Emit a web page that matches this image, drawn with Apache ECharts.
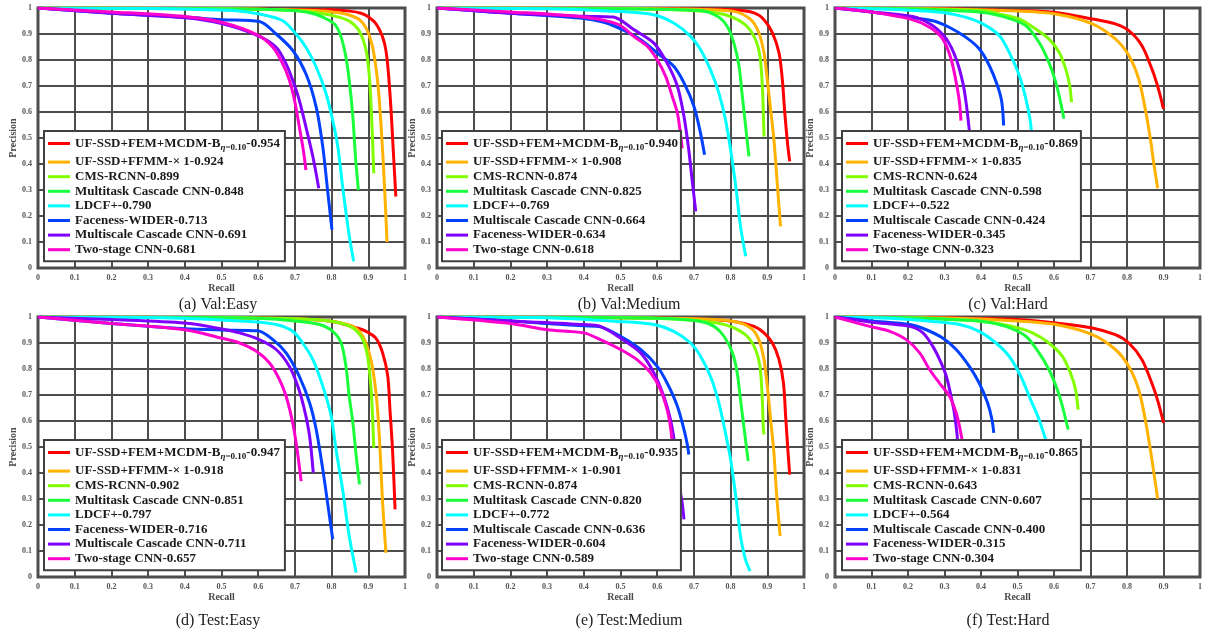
<!DOCTYPE html>
<html><head><meta charset="utf-8">
<script src="https://cdn.jsdelivr.net/npm/echarts@6/dist/echarts.min.js"></script>
<style>html,body{margin:0;padding:0;background:#fff}#c{width:1205px;height:631px}</style>
</head><body><div id="c"></div>
<script>
// ---------------- DATA ----------------
const panelCaptions = ['(a) Val:Easy', '(b) Val:Medium', '(c) Val:Hard', '(d) Test:Easy', '(e) Test:Medium', '(f) Test:Hard'];
const xTickLabels = ['0', '0.1', '0.2', '0.3', '0.4', '0.5', '0.6', '0.7', '0.8', '0.9', '1'];
const subscriptText = 'η=0.10';

const valEasyNames = ['UF-SSD+FEM+MCDM-B', 'UF-SSD+FFMM-× 1', 'CMS-RCNN', 'Multitask Cascade CNN', 'LDCF+', 'Faceness-WIDER', 'Multiscale Cascade CNN', 'Two-stage CNN'];
const valEasyScores = ['0.954', '0.924', '0.899', '0.848', '0.790', '0.713', '0.691', '0.681'];
const valEasyCurves = [
  [[0,1],[0.3,0.999],[0.6,0.996],[0.8,0.993],[0.85,0.988],[0.88,0.98],[0.898,0.968],[0.921,0.939],[0.939,0.888],[0.948,0.837],[0.955,0.747],[0.962,0.607],[0.968,0.453],[0.975,0.275]],
  [[0,1],[0.3,0.999],[0.6,0.995],[0.75,0.99],[0.82,0.982],[0.85,0.972],[0.876,0.955],[0.895,0.92],[0.91,0.86],[0.92,0.78],[0.928,0.68],[0.936,0.52],[0.944,0.32],[0.951,0.10]],
  [[0,1],[0.4,0.998],[0.6,0.995],[0.7,0.99],[0.77,0.98],[0.82,0.965],[0.85,0.948],[0.876,0.91],[0.894,0.837],[0.903,0.735],[0.909,0.581],[0.915,0.364]],
  [[0,1],[0.4,0.998],[0.6,0.995],[0.712,0.988],[0.758,0.975],[0.79,0.955],[0.81,0.935],[0.826,0.888],[0.839,0.811],[0.848,0.722],[0.858,0.581],[0.865,0.428],[0.873,0.3]],
  [[0,1],[0.3,0.998],[0.531,0.99],[0.603,0.977],[0.667,0.951],[0.703,0.9],[0.73,0.849],[0.758,0.773],[0.785,0.67],[0.803,0.568],[0.817,0.466],[0.83,0.313],[0.847,0.134],[0.86,0.026]],
  [[0,1],[0.2,0.98],[0.4,0.965],[0.5,0.955],[0.603,0.948],[0.649,0.9],[0.694,0.837],[0.73,0.747],[0.758,0.619],[0.776,0.466],[0.789,0.3],[0.801,0.147]],
  [[0,1],[0.2,0.98],[0.4,0.962],[0.5,0.94],[0.6,0.893],[0.649,0.849],[0.676,0.785],[0.694,0.722],[0.712,0.645],[0.73,0.543],[0.749,0.428],[0.765,0.307]],
  [[0,1],[0.2,0.985],[0.4,0.967],[0.5,0.945],[0.6,0.895],[0.64,0.849],[0.667,0.785],[0.685,0.722],[0.699,0.645],[0.712,0.543],[0.723,0.453],[0.73,0.377]]
];

const valMediumNames = ['UF-SSD+FEM+MCDM-B', 'UF-SSD+FFMM-× 1', 'CMS-RCNN', 'Multitask Cascade CNN', 'LDCF+', 'Multiscale Cascade CNN', 'Faceness-WIDER', 'Two-stage CNN'];
const valMediumScores = ['0.940', '0.908', '0.874', '0.825', '0.769', '0.664', '0.634', '0.618'];
const valMediumCurves = [
  [[0,1],[0.4,0.999],[0.7,0.996],[0.809,0.993],[0.864,0.981],[0.891,0.955],[0.914,0.904],[0.932,0.827],[0.941,0.724],[0.947,0.609],[0.955,0.481],[0.961,0.41]],
  [[0,1],[0.4,0.999],[0.7,0.995],[0.809,0.987],[0.855,0.955],[0.877,0.904],[0.891,0.827],[0.9,0.724],[0.909,0.609],[0.918,0.494],[0.927,0.327],[0.936,0.16]],
  [[0,1],[0.4,0.998],[0.65,0.993],[0.764,0.981],[0.809,0.962],[0.845,0.929],[0.868,0.878],[0.88,0.814],[0.886,0.712],[0.889,0.609],[0.891,0.506]],
  [[0,1],[0.4,0.998],[0.6,0.995],[0.718,0.99],[0.764,0.968],[0.791,0.929],[0.809,0.865],[0.823,0.776],[0.832,0.66],[0.841,0.545],[0.85,0.429]],
  [[0,1],[0.3,0.997],[0.491,0.987],[0.591,0.974],[0.645,0.942],[0.691,0.891],[0.718,0.84],[0.745,0.763],[0.768,0.673],[0.786,0.571],[0.8,0.455],[0.814,0.314],[0.827,0.16],[0.841,0.045]],
  [[0,1],[0.2,0.98],[0.4,0.96],[0.455,0.945],[0.505,0.917],[0.555,0.878],[0.6,0.827],[0.645,0.776],[0.673,0.712],[0.7,0.622],[0.718,0.519],[0.729,0.436]],
  [[0,1],[0.2,0.98],[0.4,0.968],[0.48,0.965],[0.536,0.917],[0.591,0.865],[0.627,0.788],[0.655,0.699],[0.673,0.583],[0.686,0.455],[0.695,0.34],[0.705,0.218]],
  [[0,1],[0.2,0.985],[0.4,0.965],[0.495,0.936],[0.536,0.891],[0.573,0.853],[0.6,0.801],[0.623,0.737],[0.641,0.66],[0.655,0.596],[0.662,0.532],[0.668,0.46]]
];

const valHardNames = ['UF-SSD+FEM+MCDM-B', 'UF-SSD+FFMM-× 1', 'CMS-RCNN', 'Multitask Cascade CNN', 'LDCF+', 'Multiscale Cascade CNN', 'Faceness-WIDER', 'Two-stage CNN'];
const valHardScores = ['0.869', '0.835', '0.624', '0.598', '0.522', '0.424', '0.345', '0.323'];
const valHardCurves = [
  [[0,1],[0.3,0.997],[0.5,0.99],[0.605,0.983],[0.705,0.958],[0.768,0.939],[0.805,0.913],[0.841,0.855],[0.868,0.766],[0.886,0.689],[0.9,0.612]],
  [[0,1],[0.3,0.996],[0.5,0.988],[0.605,0.977],[0.705,0.939],[0.768,0.881],[0.805,0.817],[0.832,0.727],[0.85,0.612],[0.864,0.497],[0.873,0.407],[0.884,0.307]],
  [[0,1],[0.2,0.997],[0.4,0.99],[0.45,0.977],[0.505,0.958],[0.55,0.919],[0.586,0.881],[0.614,0.83],[0.632,0.766],[0.643,0.702],[0.648,0.638]],
  [[0,1],[0.2,0.997],[0.405,0.983],[0.468,0.964],[0.523,0.932],[0.559,0.868],[0.586,0.791],[0.605,0.714],[0.618,0.638],[0.627,0.574]],
  [[0,1],[0.15,0.995],[0.295,0.983],[0.359,0.964],[0.405,0.939],[0.45,0.894],[0.477,0.83],[0.505,0.74],[0.523,0.65],[0.534,0.574],[0.538,0.529]],
  [[0,1],[0.1,0.985],[0.205,0.964],[0.268,0.951],[0.314,0.925],[0.359,0.887],[0.395,0.843],[0.423,0.778],[0.445,0.702],[0.457,0.638],[0.462,0.548]],
  [[0,1],[0.1,0.985],[0.2,0.97],[0.223,0.964],[0.268,0.932],[0.305,0.881],[0.332,0.804],[0.35,0.714],[0.359,0.638],[0.368,0.529]],
  [[0,1],[0.1,0.985],[0.205,0.958],[0.259,0.926],[0.295,0.881],[0.318,0.804],[0.332,0.714],[0.341,0.638],[0.345,0.567]]
];

const testEasyNames = ['UF-SSD+FEM+MCDM-B', 'UF-SSD+FFMM-× 1', 'CMS-RCNN', 'Multitask Cascade CNN', 'LDCF+', 'Faceness-WIDER', 'Multiscale Cascade CNN', 'Two-stage CNN'];
const testEasyScores = ['0.947', '0.918', '0.902', '0.851', '0.797', '0.716', '0.711', '0.657'];
const testEasyCurves = [
  [[0,1],[0.4,0.998],[0.7,0.993],[0.803,0.983],[0.858,0.962],[0.894,0.945],[0.921,0.918],[0.939,0.862],[0.953,0.773],[0.959,0.644],[0.966,0.49],[0.973,0.26]],
  [[0,1],[0.4,0.998],[0.7,0.993],[0.803,0.983],[0.858,0.964],[0.885,0.926],[0.907,0.836],[0.921,0.708],[0.93,0.542],[0.939,0.286],[0.948,0.093]],
  [[0,1],[0.4,0.998],[0.7,0.993],[0.803,0.983],[0.858,0.958],[0.885,0.913],[0.898,0.849],[0.907,0.734],[0.912,0.606],[0.915,0.497]],
  [[0,1],[0.4,0.998],[0.6,0.995],[0.712,0.983],[0.767,0.971],[0.803,0.945],[0.826,0.9],[0.839,0.811],[0.848,0.695],[0.858,0.593],[0.867,0.465],[0.876,0.356]],
  [[0,1],[0.3,0.998],[0.576,0.983],[0.649,0.971],[0.694,0.945],[0.721,0.9],[0.749,0.836],[0.776,0.734],[0.799,0.618],[0.812,0.49],[0.83,0.337],[0.848,0.157],[0.867,0.017]],
  [[0,1],[0.2,0.975],[0.4,0.955],[0.5,0.95],[0.599,0.947],[0.64,0.913],[0.676,0.862],[0.712,0.772],[0.74,0.67],[0.758,0.567],[0.776,0.414],[0.789,0.286],[0.803,0.145]],
  [[0,1],[0.2,0.99],[0.4,0.977],[0.486,0.958],[0.549,0.939],[0.603,0.913],[0.649,0.875],[0.685,0.81],[0.708,0.734],[0.726,0.644],[0.74,0.542],[0.75,0.401]],
  [[0,1],[0.2,0.975],[0.4,0.951],[0.499,0.919],[0.549,0.9],[0.594,0.869],[0.631,0.823],[0.658,0.759],[0.676,0.695],[0.694,0.593],[0.706,0.49],[0.717,0.369]]
];

const testMediumNames = ['UF-SSD+FEM+MCDM-B', 'UF-SSD+FFMM-× 1', 'CMS-RCNN', 'Multitask Cascade CNN', 'LDCF+', 'Multiscale Cascade CNN', 'Faceness-WIDER', 'Two-stage CNN'];
const testMediumScores = ['0.935', '0.901', '0.874', '0.820', '0.772', '0.636', '0.604', '0.589'];
const testMediumCurves = [
  [[0,1],[0.4,0.998],[0.7,0.993],[0.809,0.983],[0.864,0.964],[0.891,0.939],[0.914,0.9],[0.932,0.836],[0.944,0.746],[0.95,0.618],[0.956,0.49],[0.961,0.394]],
  [[0,1],[0.4,0.998],[0.7,0.993],[0.809,0.983],[0.855,0.958],[0.877,0.913],[0.891,0.836],[0.9,0.734],[0.909,0.606],[0.918,0.478],[0.925,0.324],[0.935,0.157]],
  [[0,1],[0.4,0.998],[0.65,0.992],[0.764,0.977],[0.809,0.958],[0.845,0.926],[0.868,0.875],[0.88,0.81],[0.886,0.695],[0.889,0.58],[0.891,0.548]],
  [[0,1],[0.4,0.998],[0.6,0.995],[0.718,0.983],[0.755,0.964],[0.782,0.926],[0.805,0.862],[0.818,0.785],[0.827,0.682],[0.836,0.58],[0.844,0.49],[0.848,0.446]],
  [[0,1],[0.3,0.997],[0.491,0.983],[0.591,0.971],[0.645,0.945],[0.691,0.9],[0.718,0.849],[0.745,0.772],[0.768,0.67],[0.786,0.554],[0.8,0.452],[0.814,0.311],[0.827,0.157],[0.84,0.07],[0.853,0.023]],
  [[0,1],[0.2,0.985],[0.3,0.975],[0.4,0.966],[0.445,0.962],[0.5,0.926],[0.555,0.875],[0.6,0.81],[0.627,0.746],[0.655,0.657],[0.673,0.567],[0.682,0.51],[0.686,0.471]],
  [[0,1],[0.2,0.985],[0.4,0.971],[0.445,0.964],[0.5,0.919],[0.555,0.862],[0.591,0.785],[0.618,0.695],[0.636,0.606],[0.65,0.49],[0.659,0.362],[0.668,0.286],[0.673,0.222]],
  [[0,1],[0.2,0.975],[0.3,0.951],[0.4,0.939],[0.445,0.913],[0.5,0.875],[0.545,0.836],[0.582,0.785],[0.609,0.721],[0.627,0.644],[0.636,0.58],[0.641,0.516]]
];

const testHardNames = ['UF-SSD+FEM+MCDM-B', 'UF-SSD+FFMM-× 1', 'CMS-RCNN', 'Multitask Cascade CNN', 'LDCF+', 'Multiscale Cascade CNN', 'Faceness-WIDER', 'Two-stage CNN'];
const testHardScores = ['0.865', '0.831', '0.643', '0.607', '0.564', '0.400', '0.315', '0.304'];
const testHardCurves = [
  [[0,1],[0.3,0.997],[0.5,0.99],[0.605,0.977],[0.705,0.958],[0.768,0.932],[0.805,0.9],[0.841,0.836],[0.868,0.746],[0.886,0.67],[0.9,0.593]],
  [[0,1],[0.3,0.996],[0.5,0.985],[0.605,0.971],[0.705,0.932],[0.768,0.875],[0.805,0.81],[0.832,0.721],[0.85,0.606],[0.864,0.49],[0.875,0.388],[0.884,0.301]],
  [[0,1],[0.2,0.997],[0.405,0.983],[0.486,0.964],[0.541,0.939],[0.586,0.9],[0.623,0.849],[0.645,0.785],[0.659,0.721],[0.666,0.644]],
  [[0,1],[0.2,0.997],[0.405,0.983],[0.468,0.964],[0.523,0.926],[0.559,0.862],[0.586,0.798],[0.609,0.721],[0.623,0.657],[0.632,0.606],[0.639,0.567]],
  [[0,1],[0.15,0.995],[0.268,0.983],[0.341,0.971],[0.395,0.945],[0.441,0.9],[0.477,0.849],[0.509,0.772],[0.536,0.682],[0.559,0.606],[0.577,0.529],[0.582,0.503]],
  [[0,1],[0.1,0.985],[0.205,0.971],[0.25,0.951],[0.295,0.919],[0.332,0.875],[0.368,0.81],[0.395,0.746],[0.418,0.67],[0.43,0.606],[0.435,0.554]],
  [[0,1],[0.1,0.98],[0.205,0.964],[0.241,0.939],[0.268,0.887],[0.291,0.823],[0.305,0.772],[0.318,0.695],[0.327,0.631],[0.334,0.554],[0.336,0.522]],
  [[0,1],[0.095,0.964],[0.15,0.945],[0.195,0.913],[0.232,0.862],[0.259,0.798],[0.286,0.746],[0.314,0.695],[0.332,0.631],[0.341,0.58],[0.348,0.529]]
];

// ---------------- STYLE / LAYOUT ----------------
const rankColors = ['#ff0000', '#ffb300', '#80ff00', '#1aff3c', '#00ffff', '#0040ff', '#8000ff', '#ff00cc'];
const panels = [
  {names: valEasyNames, scores: valEasyScores, curves: valEasyCurves},
  {names: valMediumNames, scores: valMediumScores, curves: valMediumCurves},
  {names: valHardNames, scores: valHardScores, curves: valHardCurves},
  {names: testEasyNames, scores: testEasyScores, curves: testEasyCurves},
  {names: testMediumNames, scores: testMediumScores, curves: testMediumCurves},
  {names: testHardNames, scores: testHardScores, curves: testHardCurves}
];
const colLeft = [38, 437, 835];
const legendOffset = [6, 5, 7];
const legendPadRight = [5, 3, 3];
const rowTop = [8, 317];
const gridW = 367, gridH = 260;
const captionX = [213, 624, 1003];
const captionY = [292, 608];
const SERIF = 'Liberation Serif';
const gridColor = '#4d4d4d';

const option = {
  animation: false,
  backgroundColor: '#ffffff',
  grid: [], xAxis: [], yAxis: [], series: [], legend: [], title: []
};

panels.forEach((pn, p) => {
  const c = p % 3, r = Math.floor(p / 3);
  const left = colLeft[c], top = rowTop[r];
  option.grid.push({left, top, width: gridW, height: gridH, show: true, borderColor: gridColor, borderWidth: 3, backgroundColor: 'transparent', containLabel: false});
  option.xAxis.push({
    type: 'value', gridIndex: p, min: 0, max: 1, interval: 0.1,
    name: 'Recall', nameLocation: 'middle', nameGap: 15,
    nameTextStyle: {fontFamily: SERIF, fontWeight: 'bold', fontSize: 10, color: '#4a4a4a'},
    axisLine: {show: false}, axisTick: {show: false},
    axisLabel: {fontFamily: SERIF, fontWeight: 'bold', fontSize: 8, color: '#555', margin: 6,
      formatter: (v) => xTickLabels[Math.round(v * 10)]},
    splitLine: {show: true, lineStyle: {color: gridColor, width: 2}}
  });
  option.yAxis.push({
    type: 'value', gridIndex: p, min: 0, max: 1, interval: 0.1,
    name: 'Precision', nameLocation: 'middle', nameGap: 20, nameRotate: 90,
    nameTextStyle: {fontFamily: SERIF, fontWeight: 'bold', fontSize: 10, color: '#4a4a4a'},
    axisLine: {show: false}, axisTick: {show: false},
    axisLabel: {fontFamily: SERIF, fontWeight: 'bold', fontSize: 8, color: '#555', margin: 6,
      formatter: (v) => xTickLabels[Math.round(v * 10)]},
    splitLine: {show: true, lineStyle: {color: gridColor, width: 2}}
  });
  const legendData = [];
  pn.curves.forEach((curve, i) => {
    const nm = 'p' + p + '_' + i;
    legendData.push(nm);
    option.series.push({
      type: 'line', name: nm, xAxisIndex: p, yAxisIndex: p, data: curve,
      showSymbol: false, symbol: 'none', smooth: 0.3,
      lineStyle: {width: 3, color: rankColors[i], cap: 'butt'},
      itemStyle: {color: rankColors[i]},
      emphasis: {disabled: true}, silent: true, z: 2 + i
    });
  });
  option.legend.push({
    data: legendData, orient: 'vertical', left: left + legendOffset[c], top: top + 123,
    padding: [2, legendPadRight[c], 5, 4], itemGap: 1.6, itemWidth: 22, itemHeight: 3, icon: 'rect',
    backgroundColor: '#ffffff', borderColor: '#404040', borderWidth: 2, borderRadius: 0,
    selectedMode: false, z: 20,
    formatter: (name) => {
      const i = +name.split('_')[1];
      if (i === 0) {
        return '{a|' + pn.names[0] + '}{eta|' + subscriptText.charAt(0) + '}{sub|' + subscriptText.slice(1) + '}{a|-' + pn.scores[0] + '}';
      }
      return '{a|' + pn.names[i] + '-' + pn.scores[i] + '}';
    },
    textStyle: {
      rich: {
        a: {fontFamily: SERIF, fontWeight: 'bold', fontSize: 13, color: '#1a1a1a', lineHeight: 14},
        eta: {fontFamily: SERIF, fontStyle: 'italic', fontWeight: 'bold', fontSize: 9, color: '#1a1a1a', lineHeight: 10, padding: [10, 0, 2, 0]},
        sub: {fontFamily: SERIF, fontWeight: 'bold', fontSize: 9, color: '#1a1a1a', lineHeight: 10, padding: [10, 0, 2, 0]}
      }
    }
  });
  option.title.push({
    text: panelCaptions[p], left: captionX[c], top: captionY[r], textAlign: 'center',
    textStyle: {fontFamily: SERIF, fontWeight: 'normal', fontSize: 16, color: '#222'}
  });
});

const chart = echarts.init(document.getElementById('c'), null, {renderer: 'canvas'});
chart.setOption(option);
</script>
</body></html>
